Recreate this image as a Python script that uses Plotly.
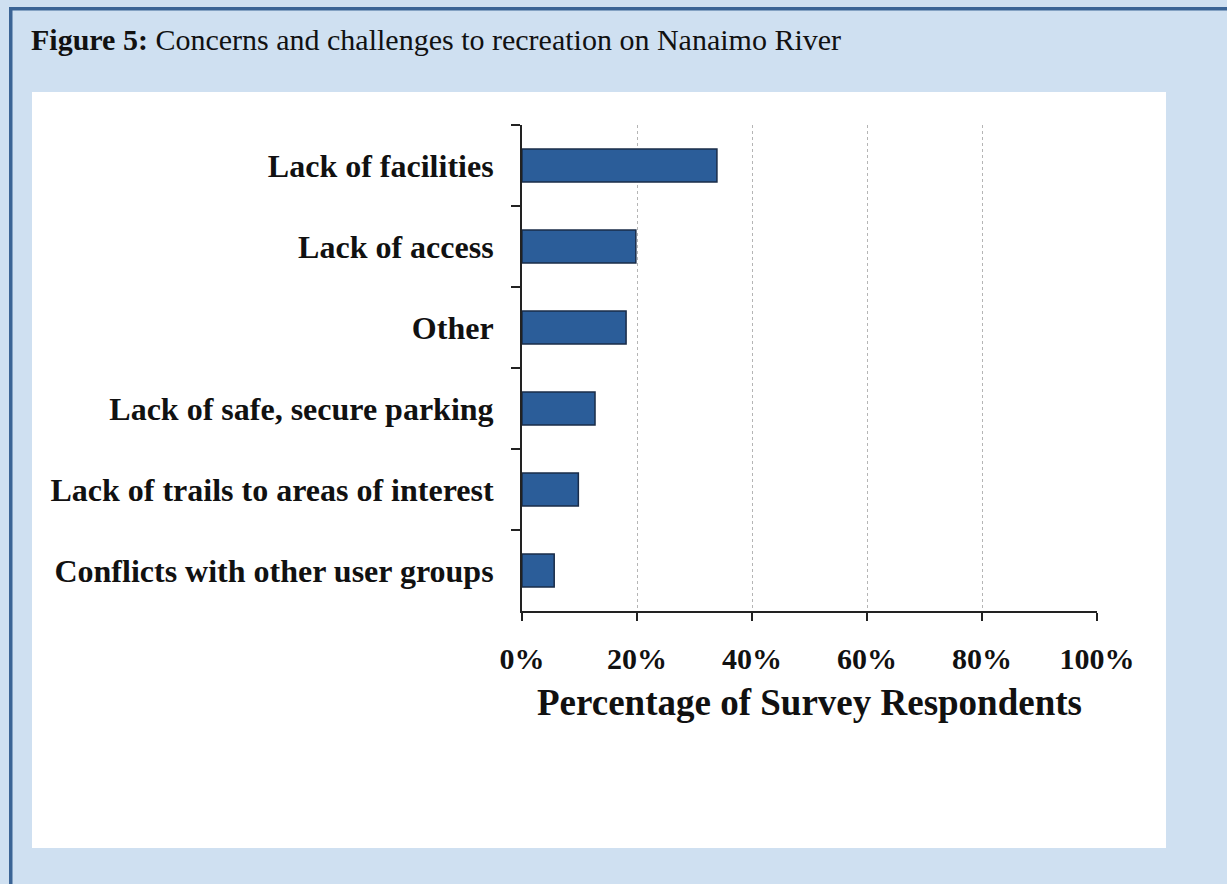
import plotly.graph_objects as go

# Survey results: share of respondents naming each concern
categories = [
    "Lack of facilities",
    "Lack of access",
    "Other",
    "Lack of safe, secure parking",
    "Lack of trails to areas of interest",
    "Conflicts with other user groups",
]
respondent_pct = [33.9, 19.8, 18.1, 12.7, 9.8, 5.6]
x_ticks = [0, 20, 40, 60, 80, 100]

W, H = 1227, 884
L, R, T, B = 522, 130, 125, 273
PW, PH = W - L - R, H - T - B

def px_x(p):
    return (p - L) / PW

def px_y(p):
    return (H - B - p) / PH

SERIF = "Liberation Serif, Times New Roman, serif"

fig = go.Figure(
    go.Bar(
        x=respondent_pct,
        y=categories,
        orientation="h",
        marker=dict(color="#2b5d99", line=dict(color="#1a2c48", width=1.5)),
        hoverinfo="x+y",
    )
)

shapes = [
    # white card behind the chart
    dict(type="rect", xref="paper", yref="paper", layer="below",
         x0=px_x(32), x1=px_x(1166), y0=px_y(848), y1=px_y(92),
         fillcolor="white", line=dict(width=0)),
    # frame lines along the top and left edges
    dict(type="rect", xref="paper", yref="paper", layer="below",
         x0=px_x(9), x1=px_x(W + 5), y0=px_y(10.5), y1=px_y(7),
         fillcolor="#3b6495", line=dict(width=0)),
    dict(type="rect", xref="paper", yref="paper", layer="below",
         x0=px_x(9), x1=px_x(12.5), y0=px_y(H + 5), y1=px_y(7),
         fillcolor="#3b6495", line=dict(width=0)),
]

fig.update_layout(
    width=W,
    height=H,
    margin=dict(l=L, r=R, t=T, b=B),
    paper_bgcolor="#cfe0f1",
    plot_bgcolor="white",
    showlegend=False,
    bargap=0.59,
    font=dict(family=SERIF, color="#111111"),
    shapes=shapes,
    annotations=[
        dict(
            xref="paper", yref="paper",
            x=px_x(29), y=px_y(39),
            xanchor="left", yanchor="middle",
            text="<b>Figure 5:</b> Concerns and challenges to recreation on Nanaimo River",
            showarrow=False,
            font=dict(family=SERIF, size=30, color="#111111"),
        )
    ],
)

fig.update_xaxes(
    range=[0, 100],
    tickvals=x_ticks,
    ticktext=[f"{v}%" for v in x_ticks],
    ticks="outside",
    ticklen=8,
    tickwidth=2,
    tickcolor="#222222",
    showline=True,
    linecolor="#222222",
    linewidth=2,
    showgrid=True,
    gridcolor="#b5b5b5",
    gridwidth=1,
    griddash="dot",
    zeroline=False,
    ticklabelstandoff=12,
    tickfont=dict(family=SERIF, size=30, weight="bold", color="#111111"),
    title=dict(
        text="Percentage of Survey Respondents",
        font=dict(family=SERIF, size=37, weight="bold", color="#111111"),
        standoff=15,
    ),
)

fig.update_yaxes(
    type="category",
    categoryorder="array",
    categoryarray=categories,
    autorange="reversed",
    tickson="boundaries",
    ticks="outside",
    ticklen=9,
    tickwidth=2,
    tickcolor="#222222",
    showline=True,
    linecolor="#222222",
    linewidth=2,
    showgrid=False,
    ticklabelstandoff=20,
    tickfont=dict(family=SERIF, size=32, weight="bold", color="#111111"),
)

fig.write_html("out.html")
